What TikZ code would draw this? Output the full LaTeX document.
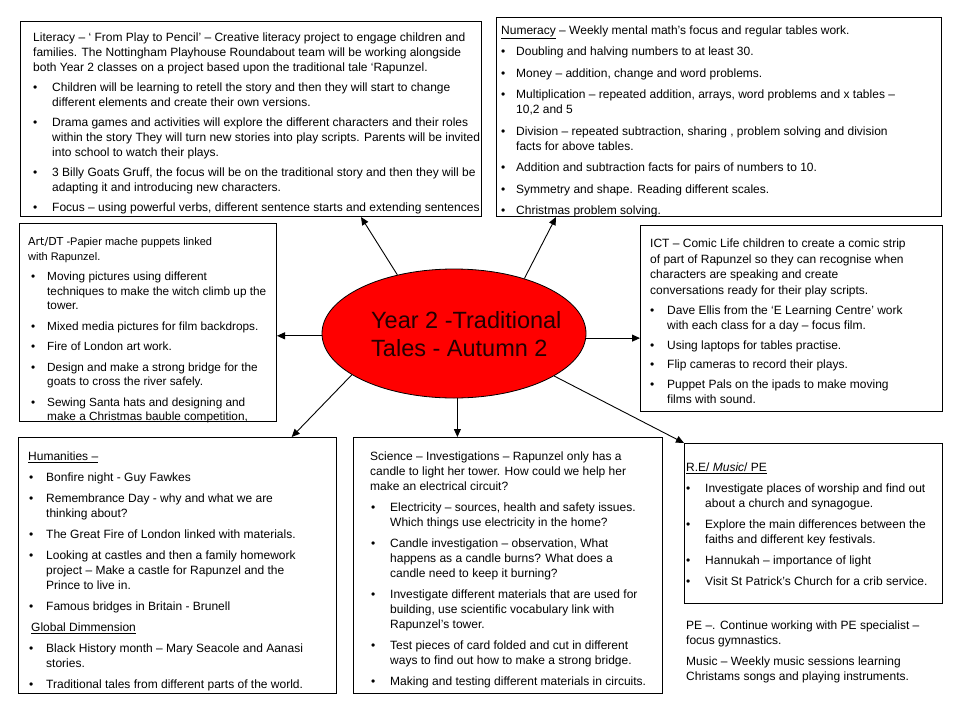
\documentclass[tikz,border=0pt]{standalone}
\usepackage{fontspec}
\setmainfont{Liberation Sans}
\newfontfamily\dejavu{DejaVu Sans}
\usetikzlibrary{shapes.geometric,arrows.meta}
\definecolor{titlecol}{RGB}{35,0,0}
\definecolor{ellred}{RGB}{255,0,0}
\newcommand{\bu}[2]{\makebox[#1pt][l]{\hspace*{#2pt}\textbullet}}
\newcommand{\ct}[1]{\hspace*{#1pt}}
\begin{document}
\begin{tikzpicture}[x=1pt,y=-1pt,
  box/.style={draw=black, line width=1pt, rectangle, inner sep=0pt, anchor=north west},
  txt/.style={anchor=north west, inner sep=0pt, align=left, font=\fontsize{12}{15}\selectfont, text=black},
  arr/.style={draw=black, line width=0.9pt, -{Triangle[length=8pt,width=7pt]}}]
\fill[white] (0,0) rectangle (960,720);
\useasboundingbox (0,0) rectangle (960,720);

% boxes
\node[box, minimum width=461pt, minimum height=195pt] (lit) at (20,21) {};
\node[box, minimum width=445pt, minimum height=199pt] (num) at (496,17) {};
\node[box, minimum width=257pt, minimum height=198pt] (art) at (19,223) {};
\node[box, minimum width=302pt, minimum height=186pt] (ict) at (640,225) {};
\node[box, minimum width=318pt, minimum height=256pt] (hum) at (18,437) {};
\node[box, minimum width=309pt, minimum height=256pt] (sci) at (353,437) {};
\node[box, minimum width=258pt, minimum height=160pt] (re) at (684,443) {};

% central ellipse
\node[ellipse, draw=black, line width=0.8pt, fill=ellred, minimum width=264pt, minimum height=129pt, inner sep=0pt] (ell) at (454,333.5) {};
\node[anchor=north west, inner sep=0pt, align=left, font=\fontsize{23.5}{28.5}\selectfont, text=titlecol] (title) at (371,311) {Year 2 -Traditional\\Tales - Autumn 2};

% texts
\node[txt] (litT) at (33,32.5) {Literacy – ‘ From Play to Pencil’ –  Creative literacy project to  engage children and\\
families. The Nottingham  Playhouse Roundabout team will be working alongside\\
both Year 2 classes on a project based upon the traditional  tale ‘Rapunzel.\\[5pt]%
\bu{19}{0}Children will be learning to retell the story  and then they will start to  change\\
\ct{19}different elements and create their own versions.\\[5pt]%
\bu{19}{0}Drama games and activities will explore the different characters and their roles\\
\ct{19}within the story They will turn new stories into play scripts.  Parents will be invited\\
\ct{19}into  school to watch their plays.\\[5pt]%
\bu{19}{0}3 Billy Goats  Gruff, the focus will be on the traditional story and then they will be\\
\ct{19}adapting it and introducing new characters.\\[5pt]%
\bu{19}{0}Focus – using powerful verbs, different sentence starts and extending sentences};

\node[txt] (numT) at (501,25.5) {\underline{Numeracy} – Weekly mental math’s focus and regular tables work.\\[6.5pt]%
\bu{15}{0}Doubling and halving numbers to at least 30.\\[6.5pt]%
\bu{15}{0}Money – addition,  change and word problems.\\[6.5pt]%
\bu{15}{0}Multiplication – repeated addition, arrays, word problems  and x tables –\\
\ct{15}10,2 and 5\\[6.5pt]%
\bu{15}{0}Division – repeated subtraction, sharing ,  problem solving and  division\\
\ct{15}facts for above tables.\\[6.5pt]%
\bu{15}{0}Addition and subtraction facts for pairs of numbers  to 10.\\[6.5pt]%
\bu{15}{0}Symmetry and shape. Reading different scales.\\[6.5pt]%
\bu{15}{0}Christmas problem solving.};

\node[txt, font=\fontsize{11.8}{14.5}\selectfont] (artT) at (28,237.5) {{\fontsize{11}{14.5}\selectfont{\dejavu Art/DT}  -Papier mache puppets linked}\\
{\fontsize{11}{14.5}\selectfont with Rapunzel.}\\[6pt]%
\bu{19}{3}Moving pictures using different\\
\ct{19}techniques to make the witch climb up the\\
\ct{19}tower.\\[6pt]%
\bu{19}{3}Mixed media pictures for film backdrops.\\[6pt]%
\bu{19}{3}Fire of London art work.\\[6pt]%
\bu{19}{3}Design and make  a strong bridge for the\\
\ct{19}goats to cross the river safely.\\[6pt]%
\bu{19}{3}Sewing Santa  hats and designing and\\
\ct{19}make a Christmas bauble competition,};

\node[txt, font=\fontsize{12}{15.5}\selectfont] (ictT) at (650,239) {ICT  – Comic Life children to create a comic strip\\
of part of Rapunzel so they can recognise when\\
characters are speaking and create\\
conversations ready for their play scripts.\\[4.5pt]%
\bu{17}{0}Dave Ellis from the ‘E Learning Centre’  work\\
\ct{17}with each class for a day – focus film.\\[4pt]%
\bu{17}{0}Using laptops for tables practise.\\[4pt]%
\bu{17}{0}Flip cameras to record their plays.\\[4pt]%
\bu{17}{0}Puppet Pals on the ipads to make moving\\
\ct{17}films with sound.};

\node[txt] (humT) at (28,451.5) {\underline{Humanities –}\\[6pt]%
\bu{18}{1}Bonfire night  - Guy Fawkes\\[6pt]%
\bu{18}{1}Remembrance Day - why and what we are\\
\ct{18}thinking about?\\[6pt]%
\bu{18}{1}The Great Fire of London linked with materials.\\[6pt]%
\bu{18}{1}Looking at castles and then a family homework\\
\ct{18}project – Make a castle for Rapunzel and the\\
\ct{18}Prince to  live in.\\[6pt]%
\bu{18}{1}Famous bridges in Britain -  Brunell\\[6pt]%
\ct{3}\underline{Global Dimmension}\\[6pt]%
\bu{18}{1}Black History month – Mary Seacole and Aanasi\\
\ct{18}stories.\\[6pt]%
\bu{18}{1}Traditional tales from different parts of the world.};

\node[txt] (sciT) at (370,451.5) {Science – Investigations – Rapunzel only has a\\
candle to light her tower. How could we help her\\
make  an electrical circuit?\\[6pt]%
\bu{20}{1}Electricity – sources, health and safety issues.\\
\ct{20}Which things use electricity in the home?\\[6pt]%
\bu{20}{1}Candle investigation – observation, What\\
\ct{20}happens as a candle burns? What does a\\
\ct{20}candle need to keep it burning?\\[6pt]%
\bu{20}{1}Investigate different materials that are used  for\\
\ct{20}building, use scientific vocabulary link with\\
\ct{20}Rapunzel’s tower.\\[6pt]%
\bu{20}{1}Test pieces of card folded and cut in different\\
\ct{20}ways to find out how to make a strong bridge.\\[6pt]%
\bu{20}{1}Making and testing different materials in circuits.};

\node[txt] (reT) at (686,462.5) {\underline{R.E/  \textit{Music}/ PE}\\[6pt]%
\bu{19}{0}Investigate places of worship and find out\\
\ct{19}about a church and synagogue.\\[6pt]%
\bu{19}{0}Explore the main differences between the\\
\ct{19}faiths and different key festivals.\\[6pt]%
\bu{19}{0}Hannukah – importance of light\\[6pt]%
\bu{19}{0}Visit St Patrick’s Church for a crib service.};

\node[txt] (peT) at (686,620.5) {PE –.  Continue working with PE specialist –\\
focus gymnastics.\\[6pt]%
Music – Weekly music sessions learning\\
Christams songs and playing instruments.};

% connectors
\draw[arr] (ell.134.4) -- ([xshift=341pt]lit.south west);
\draw[arr] (ell.38.7) -- ([xshift=60pt]num.south west);
\draw[arr] (ell.181.6) -- (ell.181.6 -| art.east);
\draw[arr] (ell.358.4) -- (ell.358.4 -| ict.west);
\draw[arr] (ell.202.9) -- ([xshift=273.7pt]hum.north west);
\draw[arr] (ell.273) -- (ell.273 |- sci.north);
\draw[arr] (ell.337.8) -- (re.north west);
\end{tikzpicture}
\end{document}
